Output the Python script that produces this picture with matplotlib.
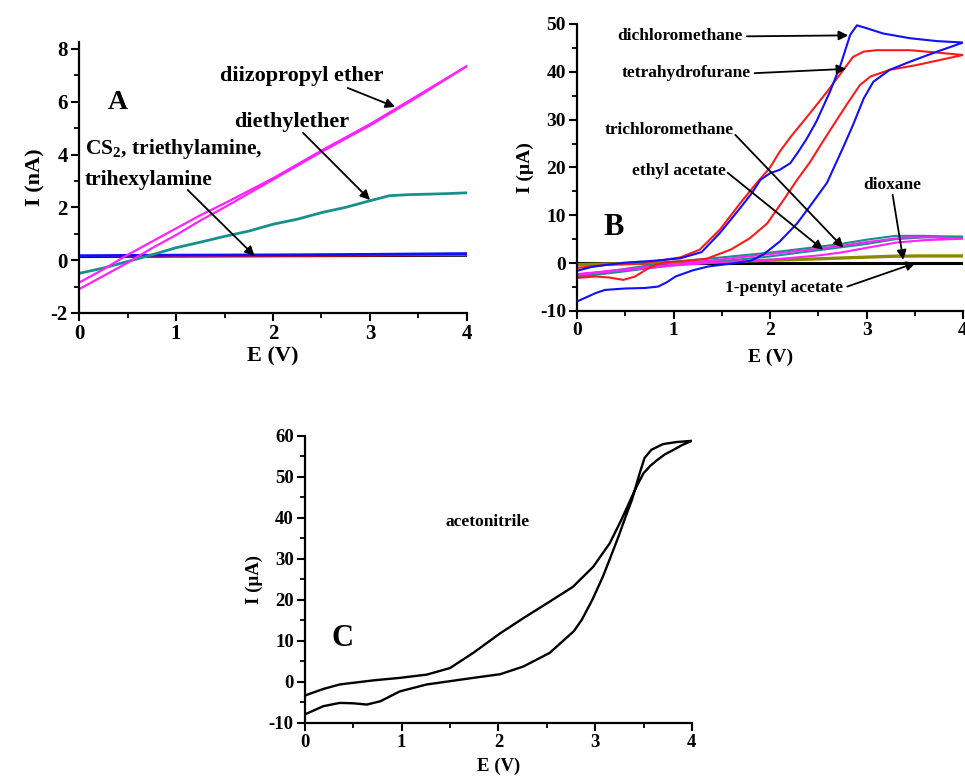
import matplotlib

matplotlib.use("Agg")
import matplotlib.pyplot as plt
from matplotlib.ticker import MultipleLocator

plt.rcParams["font.family"] = ["Liberation Serif", "DejaVu Serif"]
plt.rcParams["font.weight"] = "bold"
plt.rcParams["axes.unicode_minus"] = False
plt.rcParams["mathtext.fontset"] = "custom"
plt.rcParams["mathtext.rm"] = "Liberation Serif:bold"
plt.rcParams["mathtext.default"] = "rm"

# ---- panel A (nA) ----
A_DIPE_FWD_E = [0.0, 0.25, 0.5, 0.75, 1.0, 1.25, 1.5, 2.0, 2.5, 3.0, 3.5, 4.0]
A_DIPE_FWD_I = [-1.1, -0.6, -0.1, 0.45, 0.95, 1.5, 2.0, 3.05, 4.1, 5.1, 6.2, 7.35]
A_DIPE_REV_E = [4.0, 3.5, 3.0, 2.5, 2.0, 1.5, 1.25, 1.0, 0.75, 0.5, 0.25, 0.0]
A_DIPE_REV_I = [7.35, 6.25, 5.15, 4.15, 3.1, 2.15, 1.7, 1.2, 0.7, 0.2, -0.35, -0.85]

A_DEE_E = [0.0, 0.25, 0.5, 0.75, 1.0, 1.25, 1.5, 1.75, 2.0, 2.25, 2.5, 2.75, 3.0, 3.2, 3.4, 3.6, 3.8, 4.0]
A_DEE_I = [-0.5, -0.3, -0.05, 0.2, 0.47, 0.68, 0.9, 1.1, 1.36, 1.55, 1.8, 2.0, 2.25, 2.44, 2.48, 2.5, 2.52, 2.55]

A_FLAT_E = [0.0, 1.0, 2.0, 3.0, 4.0]
A_CS2_I = [0.15, 0.16, 0.17, 0.18, 0.2]
A_TEA_I = [0.12, 0.14, 0.15, 0.16, 0.17]
A_THA_I = [0.17, 0.19, 0.2, 0.22, 0.25]

# ---- panel B (uA) ----
B_DCM_E = [0.0, 0.1, 0.2, 0.29, 0.5, 0.7, 0.84, 0.93, 1.02, 1.2, 1.36, 1.6, 1.8, 1.93, 2.1, 2.28, 2.41,
           2.59, 2.76, 2.86, 2.97, 3.07, 3.24, 3.45, 3.73, 4.0,
           3.73, 3.45, 3.17, 3.0, 2.9, 2.83, 2.73, 2.62, 2.48, 2.38, 2.29, 2.21, 2.1, 2.0, 1.9, 1.81,
           1.69, 1.48, 1.29, 1.07, 0.8, 0.5, 0.33, 0.15, 0.0]
B_DCM_I = [-8.0, -7.1, -6.2, -5.6, -5.3, -5.2, -4.9, -4.0, -2.8, -1.5, -0.7, -0.1, 0.5, 1.8, 4.5, 8.3, 11.8,
           16.8, 24.3, 28.9, 34.4, 37.9, 40.4, 42.1, 44.2, 46.1,
           46.4, 47.0, 48.0, 49.1, 49.7, 47.7, 41.4, 35.8, 29.6, 26.0, 23.2, 20.9, 19.5, 18.8, 17.4, 14.6,
           11.5, 6.3, 2.3, 1.0, 0.5, 0.1, -0.3, -0.8, -1.6]

B_THF_E = [0.0, 0.19, 0.33, 0.48, 0.6, 0.77, 0.91, 1.1, 1.34, 1.59, 1.79, 1.97, 2.14, 2.28, 2.41, 2.55,
           2.69, 2.79, 2.93, 3.04, 3.24, 3.52, 4.0,
           3.73, 3.45, 3.1, 2.97, 2.86, 2.76, 2.59, 2.4, 2.21, 2.1, 2.0, 1.83, 1.69, 1.48, 1.27, 1.07,
           0.66, 0.31, 0.0]
B_THF_I = [-3.1, -2.8, -3.0, -3.5, -2.8, -0.7, 0.2, 0.4, 0.9, 2.8, 5.2, 8.3, 13.2, 17.4, 21.0, 25.5,
           29.9, 33.0, 37.2, 39.0, 40.4, 41.4, 43.5,
           44.0, 44.5, 44.5, 44.2, 43.1, 40.4, 35.8, 31.0, 26.3, 23.3, 20.0, 16.0, 12.5, 7.0, 2.8, 1.2,
           -0.1, -0.35, -1.0]

B_TCM_E = [0.0, 0.5, 1.0, 1.5, 2.0, 2.5, 2.73, 3.0, 3.3, 3.6, 4.0,
           3.6, 3.3, 3.0, 2.73, 2.5, 2.0, 1.5, 1.0, 0.5, 0.0]
B_TCM_I = [-2.9, -1.7, -0.4, 0.4, 1.4, 2.7, 3.3, 4.0, 5.0, 5.4, 5.5,
           5.7, 5.7, 4.9, 4.0, 3.4, 2.2, 1.2, 0.3, -1.2, -2.6]

B_ETAC_E = [0.0, 1.0, 1.5, 2.0, 2.5, 2.73, 3.0, 3.31, 3.6, 4.0,
            3.7, 3.4, 3.0, 2.73, 2.5, 2.0, 1.5, 1.0, 0.5, 0.0]
B_ETAC_I = [-2.4, -0.5, 0.2, 0.7, 1.6, 2.2, 3.2, 4.3, 4.8, 5.1,
            5.4, 5.4, 4.4, 3.6, 3.0, 1.9, 0.8, -0.3, -1.3, -2.3]

B_DIOX_E = [0.0, 0.5, 1.0, 1.5, 2.0, 2.5, 3.0, 3.3, 3.6, 4.0]
B_DIOX_I = [-0.3, -0.1, 0.1, 0.3, 0.6, 0.9, 1.25, 1.45, 1.5, 1.5]

B_PENT_E = [0.0, 4.0]
B_PENT_I = [0.0, 0.0]

# ---- panel C (uA) ----
C_ACN_E = [0.0, 0.19, 0.36, 0.5, 0.64, 0.78, 0.98, 1.26, 1.5, 1.74, 2.02, 2.26, 2.53, 2.78, 2.86, 2.97,
           3.08, 3.16, 3.24, 3.31, 3.38, 3.46, 3.51, 3.58, 3.7, 3.84, 4.0,
           3.9, 3.81, 3.72, 3.64, 3.57, 3.5, 3.44, 3.38, 3.27, 3.15, 2.98, 2.77, 2.53, 2.26, 2.02, 1.74,
           1.5, 1.26, 0.98, 0.71, 0.36, 0.19, 0.0]
C_ACN_I = [-7.9, -5.9, -5.1, -5.2, -5.5, -4.7, -2.3, -0.6, 0.2, 1.0, 1.9, 3.8, 7.1, 12.4, 15.1, 20.0,
           25.7, 30.5, 35.4, 40.0, 44.4, 50.9, 54.6, 56.6, 58.0, 58.5, 58.8,
           57.8, 56.6, 55.5, 54.1, 52.7, 50.9, 48.2, 45.2, 39.5, 33.8, 28.1, 23.2, 19.6, 15.6, 11.9, 7.1,
           3.4, 1.8, 1.0, 0.4, -0.6, -1.7, -3.3]


def style_axes(ax, yticks, ylim, ymin_step, tick_size):
    for side in ("top", "right"):
        ax.spines[side].set_visible(False)
    for side in ("left", "bottom"):
        ax.spines[side].set_linewidth(1.6)
    ax.set_xlim(0, 4)
    ax.set_ylim(*ylim)
    ax.set_xticks([0, 1, 2, 3, 4])
    ax.set_yticks(yticks)
    ax.xaxis.set_minor_locator(MultipleLocator(0.5))
    ax.yaxis.set_minor_locator(MultipleLocator(ymin_step))
    ax.tick_params(which="major", direction="out", length=6, width=1.5, labelsize=tick_size, pad=2)
    ax.tick_params(which="minor", direction="out", length=3.5, width=1.3)
    for lab in ax.get_xticklabels() + ax.get_yticklabels():
        lab.set_fontweight("bold")


ARROW_KW = dict(arrowstyle="-|>", color="black", lw=1.3, mutation_scale=14, shrinkA=0, shrinkB=0)


def label_arrow(ax, text, pos, tail, head, size, ha="center"):
    ax.text(pos[0], pos[1], text, fontsize=size, fontweight="bold", ha=ha, va="center")
    ax.annotate("", xy=head, xytext=tail, arrowprops=ARROW_KW)


fig = plt.figure(figsize=(9.65, 7.78), dpi=100)

# ---- A ----
ax_a = fig.add_axes([0.0819, 0.5977, 0.402, 0.348])
ax_a.plot(A_FLAT_E, A_TEA_I, color="black", lw=1.6)
ax_a.plot(A_FLAT_E, A_CS2_I, color="#ff1a1a", lw=1.6)
ax_a.plot(A_FLAT_E, A_THA_I, color="#1010ff", lw=2.0)
ax_a.plot(A_DEE_E, A_DEE_I, color="#16908a", lw=2.0)
ax_a.plot(A_DIPE_FWD_E, A_DIPE_FWD_I, color="#ff22ff", lw=1.6)
ax_a.plot(A_DIPE_REV_E, A_DIPE_REV_I, color="#ff22ff", lw=1.6)
style_axes(ax_a, [-2, 0, 2, 4, 6, 8], (-2, 8.25), 1, 15)
ax_a.set_xlabel("E (V)", fontsize=16, fontweight="bold", labelpad=2)
ax_a.set_ylabel("I (nA)", fontsize=16, fontweight="bold", labelpad=4)
ax_a.text(0.40, 5.95, "A", fontsize=20, fontweight="bold", ha="center", va="center")
label_arrow(ax_a, "diizopropyl ether", (2.30, 6.98), (2.77, 6.52), (3.26, 5.80), 16)
label_arrow(ax_a, "diethylether", (2.19, 5.23), (2.31, 4.82), (3.0, 2.28), 16)
ax_a.text(0.06, 4.21, "CS$_2$, triethylamine,", fontsize=15.5, fontweight="bold", ha="left", va="center")
label_arrow(ax_a, "trihexylamine", (0.06, 3.04), (1.12, 2.66), (1.81, 0.16), 15.5, ha="left")

# ---- B ----
ax_b = fig.add_axes([0.598, 0.6003, 0.400, 0.369])
ax_b.plot(B_PENT_E, B_PENT_I, color="black", lw=2.2)
ax_b.plot(B_DIOX_E, B_DIOX_I, color="#8a8a00", lw=2.4)
ax_b.plot(B_TCM_E, B_TCM_I, color="#16908a", lw=1.5)
ax_b.plot(B_ETAC_E, B_ETAC_I, color="#ff22ff", lw=1.5)
ax_b.plot(B_THF_E, B_THF_I, color="#ff1a1a", lw=1.5)
ax_b.plot(B_DCM_E, B_DCM_I, color="#1010ff", lw=1.5)
style_axes(ax_b, [-10, 0, 10, 20, 30, 40, 50], (-10, 50), 5, 14)
ax_b.set_xlabel("E (V)", fontsize=14, fontweight="bold", labelpad=7)
ax_b.set_ylabel("I (µA)", fontsize=14, fontweight="bold", labelpad=4)
ax_b.text(0.38, 7.4, "B", fontsize=22, fontweight="bold", ha="center", va="center")

label_arrow(ax_b, "dichloromethane", (1.07, 47.4), (1.76, 47.4), (2.81, 47.6), 12.5)
label_arrow(ax_b, "tetrahydrofurane", (1.13, 39.7), (1.84, 39.7), (2.79, 40.6), 12.5)
label_arrow(ax_b, "trichloromethane", (0.95, 27.8), (1.64, 26.8), (2.76, 3.2), 12.5)
label_arrow(ax_b, "ethyl acetate", (1.06, 19.3), (1.56, 18.9), (2.55, 2.8), 12.5)
label_arrow(ax_b, "dioxane", (3.27, 16.3), (3.27, 14.3), (3.38, 0.7), 12.5)
label_arrow(ax_b, "1-pentyl acetate", (2.15, -5.2), (2.80, -4.9), (3.51, 0.06), 12.5)

# ---- C ----
ax_c = fig.add_axes([0.316, 0.0707, 0.401, 0.369])
ax_c.plot(C_ACN_E, C_ACN_I, color="black", lw=1.7)
style_axes(ax_c, [-10, 0, 10, 20, 30, 40, 50, 60], (-10, 60), 5, 13.5)
ax_c.set_xlabel("E (V)", fontsize=13.5, fontweight="bold", labelpad=5)
ax_c.set_ylabel("I (µA)", fontsize=13.5, fontweight="bold", labelpad=4)
ax_c.text(1.89, 39.0, "acetonitrile", fontsize=12.5, fontweight="bold", ha="center", va="center")
ax_c.text(0.39, 10.7, "C", fontsize=22, fontweight="bold", ha="center", va="center")

fig.savefig("out.png", dpi=100)
